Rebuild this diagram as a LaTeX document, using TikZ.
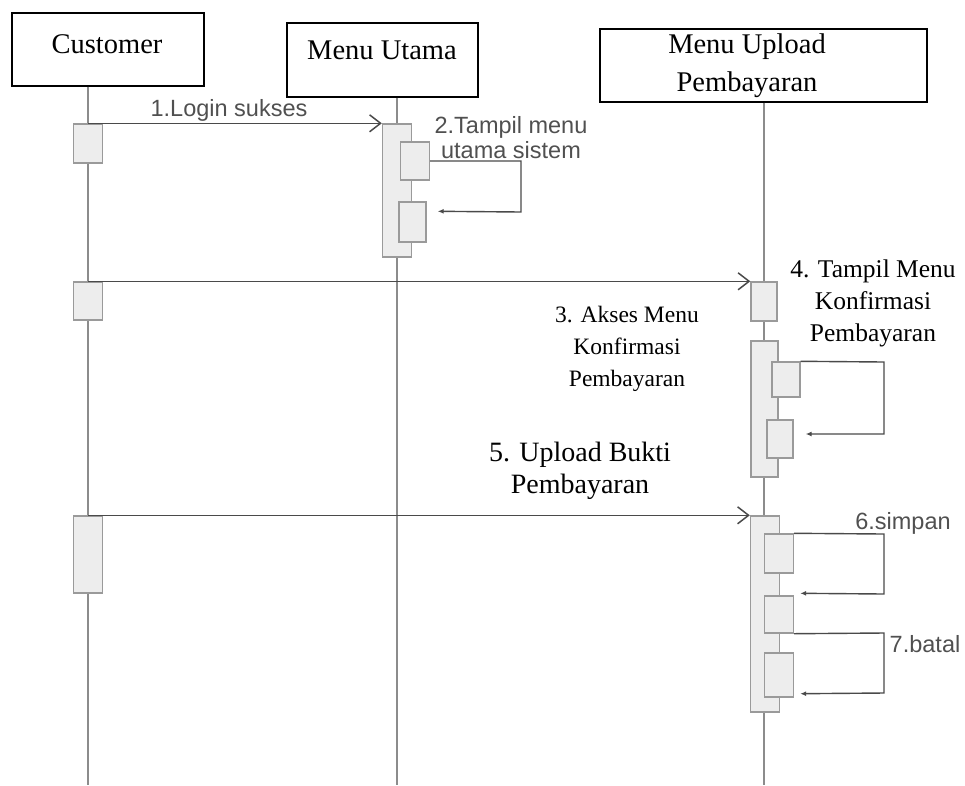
\documentclass[tikz,border=0pt]{standalone}
\usepackage{fontspec}
\setmainfont{Liberation Serif}
\newfontfamily\lsans{Liberation Sans}
\usetikzlibrary{arrows.meta,calc}
\definecolor{lifeg}{HTML}{8C8C8C}
\definecolor{actfill}{HTML}{EDEDED}
\definecolor{actline}{HTML}{9A9A9A}
\definecolor{msgc}{HTML}{4A4A4A}
\definecolor{labc}{HTML}{505050}
\begin{document}
\begin{tikzpicture}[x=1pt,y=-1pt,
 objbox/.style={draw=black,line width=1.3pt,fill=white,inner sep=0pt},
 boxtext/.style={font=\fontsize{28.5}{38}\selectfont,align=center,inner sep=0pt},
 act/.style={draw=actline,fill=actfill,line width=1.4pt,inner sep=0pt,minimum width=29pt},
 lifeline/.style={draw=lifeg,line width=1.3pt},
 msg/.style={draw=msgc,line width=1.5pt,-{Straight Barb[length=11pt,width=17pt]}},
 selfmsg/.style={draw=msgc,line width=1.4pt,-{Latex[length=6pt,width=5pt]}},
 serlab/.style={font=\fontsize{23.5}{32}\selectfont,align=center,inner sep=0pt},
 serlabb/.style={font=\fontsize{25.5}{32}\selectfont,align=center,inner sep=0pt},
 bigser/.style={font=\fontsize{28}{32}\selectfont,align=center,inner sep=0pt},
 sanlab/.style={font=\lsans\fontsize{23.5}{25}\selectfont,text=labc,inner sep=0pt,align=center}]
\useasboundingbox (0,0) rectangle (965,785);
% object boxes
\node[objbox,minimum width=192pt,minimum height=73pt] (cust) at (108,49.5) {};
\node[objbox,minimum width=191pt,minimum height=74pt] (menu) at (382.5,60) {};
\node[objbox,minimum width=327pt,minimum height=73pt] (upl) at (763.5,65.5) {};
\node[boxtext] (custt) at (107,44) {Customer};
\node[boxtext] (menut) at (382,50) {Menu Utama};
\node[boxtext] (uplt) at (747,66) {Menu Upload\\Pembayaran};
% lifelines
\coordinate (lcb) at (88,785);
\coordinate (lmb) at (397,785);
\coordinate (lub) at (764,785);
\draw[lifeline] (cust.south -| lcb) -- (lcb);
\draw[lifeline] (menu.south -| lmb) -- (lmb);
\draw[lifeline] (upl.south -| lub) -- (lub);
% activations: customer
\node[act,minimum height=39pt] (c1) at (88,143.5) {};
\node[act,minimum height=38pt] (c2) at (88,301) {};
\node[act,minimum height=77pt] (c3) at (88,554.5) {};
% activations: menu utama
\node[act,minimum height=133pt] (m1) at (397,190.5) {};
\node[act,minimum height=38pt] (m2a) at (415,161) {};
\node[act,minimum width=27pt,minimum height=40pt] (m2b) at (412.5,222) {};
% activations: upload
\node[act,minimum width=26pt,minimum height=39pt] (u1) at (764,301.5) {};
\node[act,minimum width=27pt,minimum height=136pt] (u2) at (764.5,409) {};
\node[act,minimum width=28pt,minimum height=35pt] (u2a) at (786,379.5) {};
\node[act,minimum width=26pt,minimum height=38pt] (u2b) at (780,439) {};
\node[act,minimum height=196pt] (u3) at (765,614) {};
\node[act,minimum height=39pt] (u3a) at (779,553.5) {};
\node[act,minimum height=37pt] (u3b) at (779,614.5) {};
\node[act,minimum height=44pt] (u3c) at (779,675) {};
% messages
\draw[msg] (c1.north) -- (m1.north west);
\draw[msg] (c2.north) -- (u1.north west);
\draw[msg] (c3.north) -- (u3.north west);
% self messages
\draw[selfmsg] (m2a.east) -- (521,161) -- (521,212) -- ($(m2b.north east)+(11,10)$);
\draw[selfmsg] (u2a.north east) -- (884,362) -- (884,434) -- ($(u2b.east)+(12,-5)$);
\draw[selfmsg] (u3a.north east) -- (884,534) -- (884,594) -- ($(u3b.north east)+(6,-2)$);
\draw[selfmsg] (u3b.south east) -- (884,633) -- (884,693) -- ($(u3c.south east)+(6,-4)$);
% labels
\node[sanlab] (l1) at (229,110) {1.Login sukses};
\node[sanlab] (l2) at (511,138) {2.Tampil menu\\utama sistem};
\node[serlab] (l3) at (627,349) {3. Akses Menu\\Konfirmasi\\Pembayaran};
\node[serlabb] (l4) at (873,303.5) {4. Tampil Menu\\Konfirmasi\\Pembayaran};
\node[bigser] (l5) at (580,471) {5. Upload Bukti\\Pembayaran};
\node[sanlab] (l6) at (903,523) {6.simpan};
\node[sanlab] (l7) at (925,644) {7.batal};
\end{tikzpicture}
\end{document}
